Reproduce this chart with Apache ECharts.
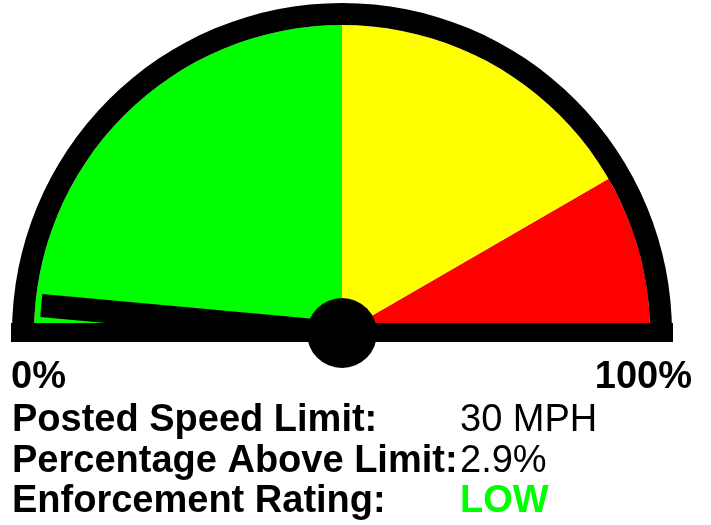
<!DOCTYPE html>
<html>
<head>
<meta charset="utf-8">
<script src="https://cdn.jsdelivr.net/npm/echarts@6/dist/echarts.min.js"></script>
<style>
  html, body { margin: 0; padding: 0; background: #fff; }
  #chart { width: 711px; height: 525px; }
</style>
</head>
<body>
<div id="chart"></div>
<script>
// Gauge bands (upper bound of each band, in percent) and their colours
const bandStops = [50, 83.3, 100];
const bandColors = ['#00ff00', '#ffff00', '#ff0000'];

// Scale end labels
const scaleLabels = ['0%', '100%'];

// Needle reading
const gaugeValue = 2.9;

// Info table below the gauge
const infoLabels = ['Posted Speed Limit:', 'Percentage Above Limit:', 'Enforcement Rating:'];
const infoValues = ['30 MPH', gaugeValue + '%', 'LOW'];
const infoColors = ['#000000', '#000000', '#00ff00'];
const infoWeights = ['normal', 'normal', 'bold'];

// Layout
const cx = 342, cy = 333;
const fillRadius = 308;
const ringRadius = 330, ringWidth = 22;
const fontFamily = '"Liberation Sans", Arial, sans-serif';
const fontSize = 38;
const textShift = 10; // bottom-aligned box sits below the glyph baseline

const chart = echarts.init(document.getElementById('chart'), null, { renderer: 'canvas' });

const hidden = {
  splitLine: { show: false },
  axisTick: { show: false },
  axisLabel: { show: false },
  title: { show: false },
  detail: { show: false }
};

const bandColorStops = bandStops.map((s, i) => [s / 100, bandColors[i]]);

function textEl(x, baseline, text, weight, color, align) {
  return {
    type: 'text', z: 3,
    style: { x: x, y: baseline + textShift, text: text,
             font: weight + ' ' + fontSize + 'px ' + fontFamily,
             fill: color, textAlign: align, textVerticalAlign: 'bottom' }
  };
}

const graphics = [
  // horizontal base bar across the gauge
  {
    type: 'rect', z: 3,
    shape: { x: cx - ringRadius - 1, y: cy - 10, width: 2 * ringRadius + 2, height: 19 },
    style: { fill: '#000' }
  },
  textEl(11, 387, scaleLabels[0], 'bold', '#000', 'left'),
  textEl(692, 387, scaleLabels[1], 'bold', '#000', 'right')
];

const rowBaselines = [430, 471, 511];
infoLabels.forEach((label, i) => {
  graphics.push(textEl(12, rowBaselines[i], label, 'bold', '#000', 'left'));
  graphics.push(textEl(460, rowBaselines[i], infoValues[i], infoWeights[i], infoColors[i], 'left'));
});

chart.setOption({
  animation: false,
  backgroundColor: '#fff',
  graphic: graphics,
  series: [
    // coloured bands filling the half disc
    Object.assign({
      type: 'gauge', z: 1, silent: true,
      center: [cx, cy], radius: fillRadius,
      startAngle: 180, endAngle: 0, min: 0, max: 100,
      axisLine: { show: true, roundCap: false, lineStyle: { width: fillRadius, color: bandColorStops } },
      pointer: { show: false },
      anchor: { show: false },
      data: [{ value: 0 }]
    }, hidden),
    // black outer rim
    Object.assign({
      type: 'gauge', z: 2, silent: true,
      center: [cx, cy], radius: ringRadius,
      startAngle: 180, endAngle: 0, min: 0, max: 100,
      axisLine: { show: true, roundCap: false, lineStyle: { width: ringWidth, color: [[1, '#000']] } },
      pointer: { show: false },
      anchor: { show: false },
      data: [{ value: 0 }]
    }, hidden),
    // needle and hub
    Object.assign({
      type: 'gauge', z: 5, silent: true,
      center: [cx, cy], radius: ringRadius,
      startAngle: 180, endAngle: 0, min: 0, max: 100,
      axisLine: { show: false },
      pointer: { show: true, icon: 'rect', length: 302, width: 23, itemStyle: { color: '#000' } },
      anchor: { show: true, showAbove: true, size: 70, itemStyle: { color: '#000' } },
      data: [{ value: gaugeValue }]
    }, hidden)
  ]
});
</script>
</body>
</html>
